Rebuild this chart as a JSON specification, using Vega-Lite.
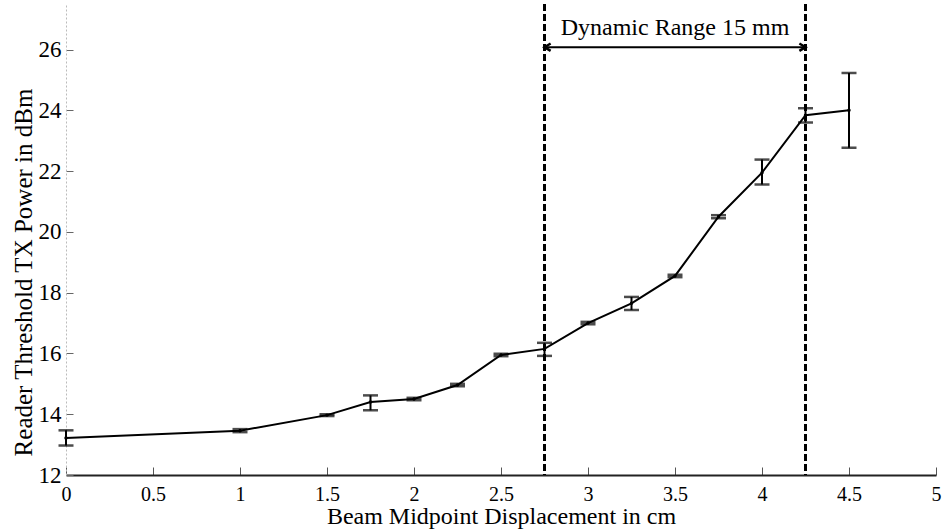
{
  "$schema": "https://vega.github.io/schema/vega-lite/v6.json",
  "width": 870,
  "height": 471,
  "autosize": "none",
  "padding": {"left": 66, "top": 4, "right": 9, "bottom": 54},
  "background": "white",
  "config": {
    "view": {"stroke": null},
    "font": "Liberation Serif"
  },
  "datasets": {
    "power": [
      {"disp": 0.0, "dbm": 13.22, "lo": 12.97, "hi": 13.47},
      {"disp": 1.0, "dbm": 13.46, "lo": 13.41, "hi": 13.51},
      {"disp": 1.5, "dbm": 13.97, "lo": 13.94, "hi": 14.0},
      {"disp": 1.75, "dbm": 14.4, "lo": 14.13, "hi": 14.62},
      {"disp": 2.0, "dbm": 14.5, "lo": 14.46, "hi": 14.54},
      {"disp": 2.25, "dbm": 14.96, "lo": 14.92, "hi": 15.0},
      {"disp": 2.5, "dbm": 15.95, "lo": 15.91, "hi": 15.99},
      {"disp": 2.75, "dbm": 16.15, "lo": 15.92, "hi": 16.35},
      {"disp": 3.0, "dbm": 17.0, "lo": 16.96, "hi": 17.04},
      {"disp": 3.25, "dbm": 17.65, "lo": 17.43, "hi": 17.86},
      {"disp": 3.5, "dbm": 18.55, "lo": 18.51, "hi": 18.59},
      {"disp": 3.75, "dbm": 20.5, "lo": 20.45, "hi": 20.55},
      {"disp": 4.0, "dbm": 21.95, "lo": 21.56, "hi": 22.38},
      {"disp": 4.25, "dbm": 23.84, "lo": 23.6, "hi": 24.07},
      {"disp": 4.5, "dbm": 24.0, "lo": 22.77, "hi": 25.23}
    ],
    "bounds": [{"disp": 2.75}, {"disp": 4.25}],
    "range": [{"start": 2.75, "end": 4.25, "level": 26.08, "mid": 3.5, "label": "Dynamic Range 15 mm", "labelLevel": 26.72}],
    "heads": [
      {"disp": 2.75, "level": 26.08, "side": "left"},
      {"disp": 4.25, "level": 26.08, "side": "right"}
    ]
  },
  "encoding": {
    "x": {
      "field": "disp",
      "type": "quantitative",
      "scale": {"domain": [0, 5], "nice": false, "zero": false},
      "axis": {
        "title": "Beam Midpoint Displacement in cm",
        "values": [0, 0.5, 1, 1.5, 2, 2.5, 3, 3.5, 4, 4.5, 5],
        "format": "~g",
        "grid": false,
        "domainColor": "#222222",
        "domainWidth": 2,
        "tickColor": "#555555",
        "tickWidth": 1,
        "tickSize": -8,
        "labelPadding": 17,
        "labelFontSize": 20,
        "labelColor": "black",
        "labelFlush": false,
        "titleFontSize": 24,
        "titleFontWeight": "normal",
        "titleColor": "black",
        "titlePadding": 0
      }
    }
  },
  "layer": [
    {
      "data": {"name": "bounds"},
      "mark": {"type": "rule", "color": "black", "strokeWidth": 3, "strokeDash": [7, 3]},
      "encoding": {"x": {"field": "disp", "type": "quantitative"}}
    },
    {
      "data": {"name": "power"},
      "mark": {"type": "line", "color": "black", "strokeWidth": 2},
      "encoding": {
        "y": {
          "field": "dbm",
          "type": "quantitative",
          "scale": {"domain": [12, 27.5], "nice": false, "zero": false},
          "axis": {
            "title": "Reader Threshold TX Power in dBm",
            "values": [12, 14, 16, 18, 20, 22, 24, 26],
            "grid": false,
            "domainColor": "#bbbbbb",
            "domainDash": [2, 2],
            "domainWidth": 1,
            "tickColor": "#666666",
            "tickWidth": 1,
            "tickSize": -7,
            "labelPadding": 12,
            "labelFontSize": 23,
            "labelColor": "black",
            "labelFlush": false,
            "titleFontSize": 25,
            "titleFontWeight": "normal",
            "titleColor": "black",
            "titlePadding": 2,
            "titleY": 268
          }
        }
      }
    },
    {
      "data": {"name": "power"},
      "mark": {"type": "rule", "color": "black", "strokeWidth": 2},
      "encoding": {
        "y": {"field": "lo", "type": "quantitative"},
        "y2": {"field": "hi"}
      }
    },
    {
      "data": {"name": "power"},
      "mark": {"type": "tick", "orient": "horizontal", "color": "black", "size": 15, "thickness": 2.5},
      "encoding": {"y": {"field": "lo", "type": "quantitative"}}
    },
    {
      "data": {"name": "power"},
      "mark": {"type": "tick", "orient": "horizontal", "color": "black", "size": 15, "thickness": 2.5},
      "encoding": {"y": {"field": "hi", "type": "quantitative"}}
    },
    {
      "data": {"name": "power"},
      "mark": {"type": "point", "filled": true, "color": "black", "size": 12, "opacity": 1},
      "encoding": {"y": {"field": "dbm", "type": "quantitative"}}
    },
    {
      "data": {"name": "range"},
      "mark": {"type": "rule", "color": "black", "strokeWidth": 2},
      "encoding": {
        "x": {"field": "start", "type": "quantitative"},
        "x2": {"field": "end"},
        "y": {"field": "level", "type": "quantitative"}
      }
    },
    {
      "data": {"name": "heads"},
      "transform": [{"filter": "datum.side === 'left'"}],
      "mark": {"type": "point", "shape": "M1,-0.6L0,0L1,0.6", "filled": false, "color": "black", "strokeWidth": 2.5, "size": 150, "opacity": 1},
      "encoding": {"y": {"field": "level", "type": "quantitative"}}
    },
    {
      "data": {"name": "heads"},
      "transform": [{"filter": "datum.side === 'right'"}],
      "mark": {"type": "point", "shape": "M-1,-0.6L0,0L-1,0.6", "filled": false, "color": "black", "strokeWidth": 2.5, "size": 150, "opacity": 1},
      "encoding": {"y": {"field": "level", "type": "quantitative"}}
    },
    {
      "data": {"name": "range"},
      "mark": {"type": "text", "fontSize": 24, "color": "black", "align": "center", "baseline": "middle"},
      "encoding": {
        "x": {"field": "mid", "type": "quantitative"},
        "y": {"field": "labelLevel", "type": "quantitative"},
        "text": {"field": "label"}
      }
    }
  ]
}
